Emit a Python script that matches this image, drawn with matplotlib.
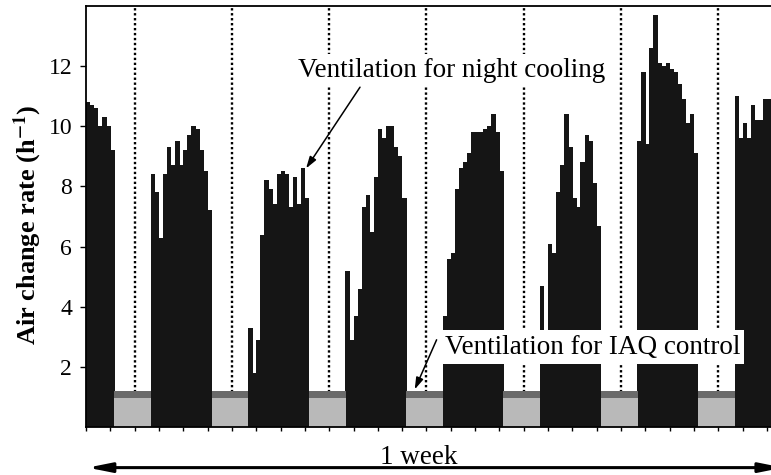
import matplotlib
matplotlib.use('Agg')
import matplotlib.pyplot as plt
import numpy as np

# hourly air change rates (h-1) during night cooling
night_start = [0, 16, 40, 64, 88, 112, 136, 160]
night1 = [10.8, 10.7, 10.6, 10.0, 10.3, 10.0, 9.2]
night2 = [8.4, 7.8, 6.3, 8.4, 9.3, 8.7, 9.5, 8.7, 9.2, 9.7, 10.0, 9.9, 9.2, 8.5, 7.2]
night3 = [3.3, 1.8, 2.9, 6.4, 8.2, 7.9, 7.4, 8.4, 8.5, 8.4, 7.3, 8.3, 7.4, 8.6, 7.6]
night4 = [5.2, 2.9, 3.7, 4.6, 7.3, 7.7, 6.5, 8.3, 9.9, 9.6, 10.0, 10.0, 9.3, 9.0, 7.6]
night5 = [3.7, 5.6, 5.8, 7.9, 8.6, 8.8, 9.1, 9.8, 9.8, 9.8, 9.9, 10.0, 10.4, 9.8, 8.5]
night6 = [4.7, 2.5, 6.1, 5.8, 7.8, 8.7, 10.4, 9.3, 7.6, 7.3, 8.8, 9.7, 9.5, 8.1, 6.7]
night7 = [9.5, 11.8, 9.4, 12.6, 13.7, 12.1, 12.0, 12.1, 11.9, 11.8, 11.4, 10.9, 10.1, 10.4, 9.1]
night8 = [11.0, 9.6, 10.1, 9.6, 10.7, 10.2, 10.2, 10.9, 10.9, 10.9]
nights = [night1, night2, night3, night4, night5, night6, night7, night8]

# daytime ventilation for IAQ control
iaq_start = [7, 31, 55, 79, 103, 127, 151]
iaq_hours = 9
iaq_rate = 1.2

week_hours = 169
yticks = [2, 4, 6, 8, 10, 12]

plt.rcParams['font.family'] = ['Liberation Serif', 'DejaVu Serif']
plt.rcParams['mathtext.fontset'] = 'stix'

fig = plt.figure(figsize=(7.71, 4.75), dpi=100)
ax = fig.add_axes([86 / 771, 48 / 475, (771 - 86) / 771, 421 / 475])

# noon markers
for h in np.arange(12, week_hours, 24):
    ax.axvline(h, color='black', ls=(0, (1, 1.1)), lw=1.7, zorder=1)

# bars slightly wider than an hour so no seams show between them
for start, vals in zip(night_start, nights):
    x = start + np.arange(len(vals))
    ax.bar(x, vals, width=1.08, align='edge', color='#151515',
           linewidth=0, zorder=2)

for s in iaq_start:
    x = s + np.arange(iaq_hours)
    ax.bar(x, [iaq_rate] * iaq_hours, width=1.08, align='edge', color='#b9b9b9',
           linewidth=0, zorder=2)
    ax.bar(x, [iaq_rate * 0.2] * iaq_hours, bottom=iaq_rate * 0.8, width=1.08,
           align='edge', color='#6a6a6a', linewidth=0, zorder=2)

ax.set_xlim(0, week_hours)
ax.set_ylim(0, 14)
ax.set_yticks(yticks)
ax.set_xticks(np.arange(0, week_hours, 6))
ax.set_xticklabels([])
ax.tick_params(axis='y', labelsize=17, length=4, width=1, pad=6)
ax.tick_params(axis='x', length=3, width=1)
ax.spines['right'].set_visible(False)
for sp in ['left', 'top', 'bottom']:
    ax.spines[sp].set_linewidth(1.3)

ax.set_ylabel(r'Air change rate (h$^{\mathbf{-1}}$)', fontsize=19, fontweight='bold')
ax.yaxis.set_label_coords(-0.062, 0.48)

# annotations
ax.text(90.3, 11.86, 'Ventilation for night cooling', fontsize=19.5, ha='center',
        va='center', bbox=dict(fc='white', ec='none', pad=3), zorder=5)
ax.annotate('', xy=(54.3, 8.6), xytext=(67.6, 11.3),
            arrowprops=dict(arrowstyle='-|>,head_length=0.7,head_width=0.22',
                            color='black', lw=1.1, shrinkA=0, shrinkB=0), zorder=6)

ax.text(124.9, 2.66, 'Ventilation for IAQ control', fontsize=19.5, ha='center',
        va='center', bbox=dict(fc='white', ec='none', pad=3), zorder=5)
ax.annotate('', xy=(81.1, 1.25), xytext=(86.5, 2.9),
            arrowprops=dict(arrowstyle='-|>,head_length=0.7,head_width=0.22',
                            color='black', lw=1.1, shrinkA=0, shrinkB=0), zorder=6)

# 1 week span below the axis
trans = ax.get_xaxis_transform()
ax.annotate('', xy=(0.4, -0.0965), xytext=(week_hours + 3, -0.0965),
            xycoords=trans, textcoords=trans, annotation_clip=False,
            arrowprops=dict(arrowstyle='<|-|>,head_length=1.4,head_width=0.28',
                            color='black', lw=2.2, shrinkA=0, shrinkB=0))
ax.text(82, -0.088, '1 week', transform=trans, ha='center', va='baseline',
        fontsize=19.5)

fig.savefig('out.png', dpi=100)
